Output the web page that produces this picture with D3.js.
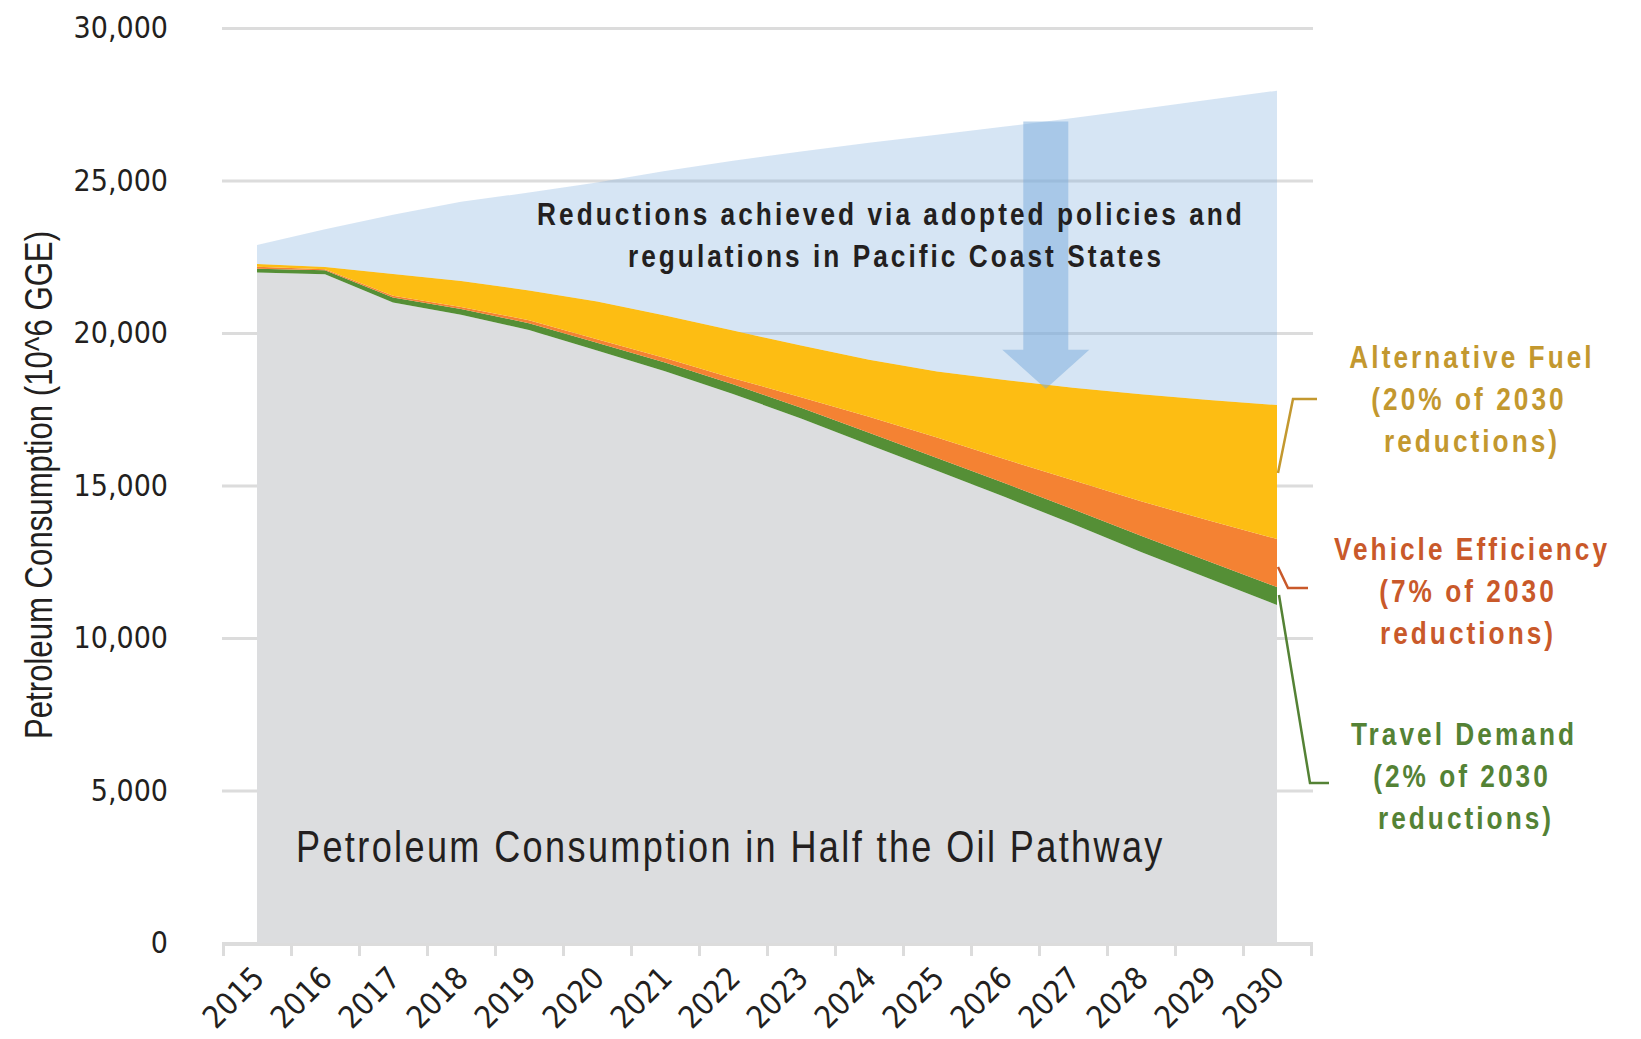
<!DOCTYPE html>
<html>
<head>
<meta charset="utf-8">
<script src="https://cdn.jsdelivr.net/npm/d3@7"></script>
<style>
  body { margin: 0; background: #fff; }
  svg { display: block; }
  .num { font-family: "DejaVu Sans Condensed", "DejaVu Sans", sans-serif; font-stretch: condensed; fill: #231f20; }
  .narrow { font-family: "Liberation Sans", Arial, sans-serif; fill: #231f20; }
  .bold { font-weight: bold; }
</style>
</head>
<body>
<svg id="chart" width="1641" height="1039"></svg>
<script>
(function() {
  'use strict';

  // values (10^6 GGE)
  var years = [2015, 2016, 2017, 2018, 2019, 2020, 2021, 2022, 2023, 2024, 2025, 2026, 2027, 2028, 2029, 2030];
  var petroleum = [21980, 21930, 21000, 20600, 20100, 19430, 18750, 18000, 17200, 16340, 15480, 14620, 13740, 12820, 11950, 11080];
  var travelDemand = [130, 130, 160, 190, 220, 250, 280, 320, 350, 390, 420, 450, 480, 530, 560, 590];
  var vehicleEfficiency = [60, 30, 60, 65, 100, 115, 150, 200, 345, 525, 670, 790, 950, 1130, 1345, 1575];
  var alternativeFuel = [92, 74, 714, 850, 973, 1235, 1390, 1562, 1692, 1865, 2170, 2599, 3033, 3510, 3948, 4394];
  var adoptedPolicies = [623, 1236, 1946, 2595, 3213, 3907, 4740, 5563, 6364, 7118, 7763, 8310, 8845, 9357, 9848, 10305];
  var yTicks = [0, 5000, 10000, 15000, 20000, 25000, 30000];
  var arrowYear = 2026.6;

  var svg = d3.select("#chart");

  var x = d3.scaleLinear().domain([2014.5, 2030.5]).range([223, 1311]);
  var y = d3.scaleLinear().domain([0, 30000]).range([943, 28]);

  // condensed look: Liberation Sans squeezed horizontally
  function label(parent, tx, ty, rot, txt, opts) {
    var g = parent.append("g")
      .attr("transform", "translate(" + tx + "," + ty + ")" + (rot ? " rotate(" + rot + ")" : "") + " scale(0.82,1)");
    var t = g.append("text")
      .attr("class", "narrow" + (opts.bold ? " bold" : ""))
      .attr("font-size", opts.size)
      .attr("letter-spacing", opts.ls || 0)
      .attr("text-anchor", opts.anchor || "middle")
      .text(txt);
    if (opts.color) t.style("fill", opts.color);
    return t;
  }

  // grid + y labels
  svg.append("g")
    .attr("transform", "translate(222,0)")
    .call(d3.axisLeft(y).tickValues(yTicks).tickSize(-(1313 - 222)).tickPadding(54)
      .tickFormat(d3.format(",")))
    .call(function(g) { g.select(".domain").remove(); })
    .call(function(g) {
      g.selectAll(".tick line").attr("stroke", "#dcdcdc").attr("stroke-width", 3);
      g.selectAll(".tick text").attr("class", "num").attr("font-size", 30).attr("fill", "#231f20");
    });

  // stacked areas
  var rows = years.map(function(yr, i) {
    return {
      year: yr,
      petroleum: petroleum[i],
      travel: travelDemand[i],
      vehicle: vehicleEfficiency[i],
      alt: alternativeFuel[i],
      policies: adoptedPolicies[i]
    };
  });
  var keys = ["petroleum", "travel", "vehicle", "alt", "policies"];
  var fills = {
    petroleum: "#dcdddf",
    travel: "#558f36",
    vehicle: "#f48233",
    alt: "#fdbd13",
    policies: "rgb(122,171,219)"
  };
  var series = d3.stack().keys(keys)(rows);

  var area = d3.area()
    .x(function(d) { return x(d.data.year); })
    .y0(function(d) { return y(d[0]); })
    .y1(function(d) { return y(d[1]); });

  svg.append("g").selectAll("path")
    .data(series)
    .join("path")
    .attr("d", area)
    .attr("fill", function(d) { return fills[d.key]; })
    .attr("fill-opacity", function(d) { return d.key === "policies" ? 0.31 : 1; });

  // arrow from BAU down to the pathway total
  function topAt(s, yr) {
    var i = Math.min(Math.floor(yr - years[0]), years.length - 2);
    var t = yr - years[i];
    return d3.interpolateNumber(s[i][1], s[i + 1][1])(t);
  }
  var ax = x(arrowYear);
  var a1 = y(topAt(series[4], arrowYear));
  var a2 = y(topAt(series[3], arrowYear)) + 4;
  var sw = 22.5, hw = 43.5, hl = 39;
  svg.append("path")
    .attr("d", "M" + [ax - sw, a1] + "L" + [ax + sw, a1] + "L" + [ax + sw, a2 - hl] +
      "L" + [ax + hw, a2 - hl] + "L" + [ax, a2] + "L" + [ax - hw, a2 - hl] +
      "L" + [ax - sw, a2 - hl] + "Z")
    .attr("fill", "rgb(122,171,219)")
    .attr("fill-opacity", 0.5);

  // x axis (ticks on year boundaries)
  svg.append("g")
    .attr("transform", "translate(0,944)")
    .call(d3.axisBottom(x).tickValues(d3.range(2014.5, 2031, 1)).tickSize(12).tickSizeOuter(0).tickFormat(""))
    .call(function(g) {
      g.select(".domain").attr("stroke", "#dcdcdc").attr("stroke-width", 3);
      g.selectAll(".tick line").attr("stroke", "#dcdcdc").attr("stroke-width", 3);
    });

  svg.append("g").selectAll("text")
    .data(years)
    .join("text")
    .attr("class", "num")
    .attr("font-size", 31)
    .attr("text-anchor", "end")
    .attr("transform", function(d) { return "translate(" + (x(d) + 9) + ",980) rotate(-45)"; })
    .text(function(d) { return d; });

  // y axis title
  label(svg, 52, 485, -90, "Petroleum Consumption (10^6 GGE)", { size: 38 });

  // label in grey area
  label(svg, 296, 862, 0, "Petroleum Consumption in Half the Oil Pathway", { size: 44, ls: 2.9, anchor: "start" });

  // annotation in blue area
  label(svg, 891, 225, 0, "Reductions achieved via adopted policies and", { size: 32, ls: 3.7, bold: true });
  label(svg, 896, 267, 0, "regulations in Pacific Coast States", { size: 32, ls: 3.7, bold: true });

  // right-hand labels
  var notes = [
    { color: "#c3982f", lines: ["Alternative Fuel", "(20% of 2030", "reductions)"], cx: [1472, 1469, 1472], by: 368,
      leader: [[1317, 399], [1293, 399], [1278, 473]] },
    { color: "#c9592a", lines: ["Vehicle Efficiency", "(7% of 2030", "reductions)"], cx: [1472, 1468, 1468], by: 560,
      leader: [[1278, 567], [1288, 588], [1308, 588]] },
    { color: "#548235", lines: ["Travel Demand", "(2% of 2030", "reductions)"], cx: [1464, 1462, 1466], by: 745,
      leader: [[1279, 595], [1310, 783], [1329, 783]] }
  ];

  notes.forEach(function(n) {
    n.lines.forEach(function(s, i) {
      label(svg, n.cx[i], n.by + i * 42, 0, s, { size: 32, ls: 3.7, bold: true, color: n.color });
    });
    svg.append("path")
      .attr("d", d3.line()(n.leader))
      .attr("fill", "none")
      .attr("stroke", n.color)
      .attr("stroke-width", 2.5);
  });
}());
</script>
</body>
</html>
